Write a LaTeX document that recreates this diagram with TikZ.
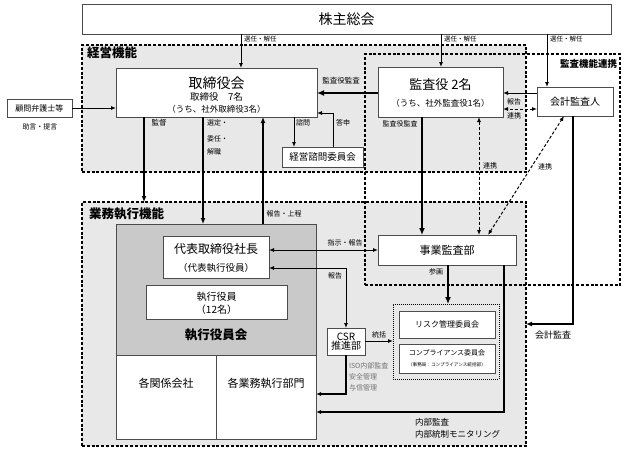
\documentclass[tikz,border=0pt]{standalone}
\usepackage{fontspec}
\setmainfont{Noto Sans CJK JP}
\usetikzlibrary{arrows.meta}
\newcommand\fsz[1]{\fontsize{#1}{#1}\selectfont}
\definecolor{regfill}{gray}{0.91}
\definecolor{execfill}{gray}{0.79}
\definecolor{bord}{gray}{0.3}
\definecolor{isogray}{gray}{0.45}
\begin{document}
\begin{tikzpicture}[x=1pt,y=-1pt,
  box/.style={draw=bord, line width=0.9pt, fill=white, anchor=north west, inner sep=0pt, outer sep=0pt},
  region/.style={draw=black, line width=1.1pt, dash pattern=on 3pt off 1.8pt, anchor=north west, inner sep=0pt, outer sep=0pt},
  txt/.style={inner sep=0pt, outer sep=0pt},
  lbl/.style={inner sep=0pt, outer sep=0pt, font=\fsz{7}},
  arr/.style={line width=1pt, -{Latex[length=5pt,width=4pt]}},
  arrb/.style={line width=1pt, {Latex[length=5pt,width=4pt]}-{Latex[length=5pt,width=4pt]}},
  thk/.style={line width=2pt, -{Latex[length=6pt,width=5pt]}},
  vthk/.style={line width=2.8pt, -{Latex[length=7pt,width=6pt]}},
  dasharr/.style={line width=1pt, dash pattern=on 3pt off 2pt, {Latex[length=5pt,width=4pt]}-{Latex[length=5pt,width=4pt]}}
]
\useasboundingbox (0,0) rectangle (624,448);

% regions
\node[region, fill=regfill, minimum width=444pt, minimum height=127pt] (keiei) at (82,45) {};
\node[region, fill=regfill, minimum width=444pt, minimum height=244pt] (gyomu) at (82,202) {};
\node[region, minimum width=255pt, minimum height=231pt] (kansaR) at (365,54) {};
\node[txt, anchor=west, font=\fsz{12.5}\bfseries] (keieiL) at (87,53) {経営機能};
\node[txt, anchor=west, font=\fsz{12.5}\bfseries] (gyomuL) at (89,214) {業務執行機能};
\node[txt, anchor=east, font=\fsz{9.5}\bfseries] (kansaL) at (617,64) {監査機能連携};

% coordinates
\coordinate (v1) at (241,0);
\coordinate (v2) at (441,0);
\coordinate (v3) at (547,0);
\coordinate (v4) at (144,0);
\coordinate (v5) at (203,0);
\coordinate (v6) at (263,0);
\coordinate (v7) at (294,0);
\coordinate (v8) at (333,0);
\coordinate (v9) at (422,0);
\coordinate (v10) at (479,0);
\coordinate (v11) at (488,0);
\coordinate (v12) at (564,0);
\coordinate (v13) at (573,0);
\coordinate (v14) at (346,0);
\coordinate (v15) at (448,0);
\coordinate (v16) at (504,0);
\coordinate (h1) at (0,113);
\coordinate (h2) at (0,93);
\coordinate (h3) at (0,109);
\coordinate (h4) at (0,324);
\coordinate (h5) at (0,250);
\coordinate (h6) at (0,268);
\coordinate (h7) at (0,341);
\coordinate (h8) at (0,394);
\coordinate (h9) at (0,412);

% boxes
\node[box, minimum width=529pt, minimum height=30pt, font=\fsz{14}] (kabu) at (82,4) {株主総会};
\node[box, minimum width=65pt, minimum height=18pt, font=\fsz{8}] (komon) at (7,99) {顧問弁護士等};
\node[txt, font=\fsz{7}] (jogen) at (40,127) {助言・提言};

\node[box, minimum width=201pt, minimum height=49pt] (tori) at (116,68) {};
\node[txt, font=\fsz{14}] (toriT1) at (216.5,83) {取締役会};
\node[txt, font=\fsz{9.5}] (toriT2) at (216.5,97) {取締役　7名};
\node[txt, font=\fsz{8.5}] (toriT3) at (216.5,109) {（うち、社外取締役3名）};

\node[box, minimum width=125pt, minimum height=50pt] (kansayaku) at (378,67) {};
\node[txt, font=\fsz{13}] (kyT1) at (440.5,85) {監査役 2名};
\node[txt, font=\fsz{8.5}] (kyT2) at (440.5,103) {（うち、社外監査役1名）};

\node[box, minimum width=76pt, minimum height=29pt, font=\fsz{10}] (kaikei) at (537,87) {会計監査人};
\node[box, minimum width=81pt, minimum height=20pt, font=\fsz{9.5}] (shimon) at (282,147) {経営諮問委員会};

\node[box, fill=execfill, minimum width=200pt, minimum height=131pt] (exec) at (116,224) {};
\node[box, minimum width=106pt, minimum height=42pt] (daihyo) at (163,236) {};
\node[txt, font=\fsz{12}] (dhT1) at (216,249) {代表取締役社長};
\node[txt, font=\fsz{9.5}] (dhT2) at (216,268) {（代表執行役員）};
\node[box, minimum width=141pt, minimum height=34pt] (shikko) at (146,285) {};
\node[txt, font=\fsz{10}] (skT1) at (216.5,297) {執行役員};
\node[txt, font=\fsz{10}] (skT2) at (216.5,310) {（12名）};
\node[txt, font=\fsz{12.5}\bfseries] (execL) at (216,335) {執行役員会};
\node[box, minimum width=100pt, minimum height=84pt] (kankei) at (116,355) {};
\node[txt, font=\fsz{11}] (kankeiT) at (166,383) {各関係会社};
\node[box, minimum width=100pt, minimum height=84pt] (bumon) at (216,355) {};
\node[txt, font=\fsz{11}] (bumonT) at (266,383) {各業務執行部門};

\node[box, minimum width=138pt, minimum height=30pt, font=\fsz{11}] (jigyo) at (378,235) {事業監査部};
\node[box, minimum width=38pt, minimum height=27pt, font=\fsz{10}, align=center] (csr) at (327,328) {CSR\\[-1pt]推進部};
\node[box, draw=black, line width=1pt, densely dotted, fill=regfill, minimum width=106pt, minimum height=75pt] (commR) at (393,304) {};
\node[box, minimum width=96pt, minimum height=27pt, font=\fsz{8}] (risk) at (399,311) {リスク管理委員会};
\node[box, minimum width=96pt, minimum height=29pt] (comp) at (399,344) {};
\node[txt, font=\fsz{7}] (compT1) at (447,353) {コンプライアンス委員会};
\node[txt, font=\fsz{4.6}] (compT2) at (447,365) {（事務局：コンプライアンス統括部）};

% connectors
\draw[arr] (kabu.south -| v1) -- (tori.north -| v1);
\draw[arr] (kabu.south -| v2) -- (kansayaku.north -| v2);
\draw[arr] (kabu.south -| v3) -- (kaikei.north -| v3);
\node[lbl, anchor=west, font=\fsz{6.5}] (s1) at (244,39.5) {選任・解任};
\node[lbl, anchor=west, font=\fsz{6.5}] (s2) at (444,39.5) {選任・解任};
\node[lbl, anchor=west, font=\fsz{6.5}] (s3) at (550,39.5) {選任・解任};

\draw[arr] (komon.east) -- (komon.east -| tori.west);

\draw[thk] (tori.south -| v4) -- (gyomu.north -| v4);
\draw[thk] (tori.south -| v5) -- (exec.north -| v5);
\draw[thk] (exec.north -| v6) -- (tori.south -| v6);
\draw[arr] (tori.south -| v7) -- (shimon.north -| v7);
\draw[arr] (shimon.north -| v8) |- (tori.east |- h1);
\node[lbl, font=\fsz{7.5}] (kantoku) at (159,123) {監督};
\node[lbl, anchor=west] (sentei) at (207,123) {選定・};
\node[lbl, anchor=west] (inin) at (207,139) {委任・};
\node[lbl, anchor=west] (kaishoku) at (207,152) {解職};
\node[lbl] (shimonL) at (303,123) {諮問};
\node[lbl] (toshin) at (343,123) {答申};
\node[lbl] (hokokujotei) at (284,214) {報告・上程};

\draw[vthk] (kansayaku.west |- h2) -- (tori.east |- h2);
\node[lbl, font=\fsz{7.5}] (kyk1) at (341,81) {監査役監査};
\draw[arr] (kaikei.west |- h2) -- (kansayaku.east |- h2);
\draw[dasharr] (kaikei.west |- h3) -- (kansayaku.east |- h3);
\node[lbl] (hokoku1) at (514,102) {報告};
\node[lbl] (renkei1) at (514,116) {連携};

\draw[vthk] (kansayaku.south -| v9) -- (jigyo.north -| v9);
\node[lbl] (kyk2) at (400,124) {監査役監査};
\draw[dasharr] (kansayaku.south -| v10) -- (jigyo.north -| v10);
\node[lbl] (renkei2) at (490,166) {連携};
\draw[dasharr] (jigyo.north -| v11) -- (kaikei.south -| v12);
\node[lbl] (renkei3) at (545,167) {連携};

\draw[thk] (kaikei.south -| v13) |- (gyomu.east |- h4);
\node[lbl, font=\fsz{9}] (kaikeikansa) at (553,335) {会計監査};

\draw[arrb] (daihyo.east |- h5) -- (jigyo.west |- h5);
\node[lbl] (shiji) at (345,243) {指示・報告};
\draw[arrb] (daihyo.east |- h6) -| (csr.north -| v14);
\node[lbl] (hokoku2) at (335,276) {報告};

\draw[vthk] (jigyo.south -| v15) -- (commR.north -| v15);
\node[lbl] (sankaku) at (436,272) {参画};
\draw[arr] (csr.east |- h7) -- (commR.west |- h7);
\node[lbl] (tokatsu) at (379,335) {統括};

\draw[arr, line width=1.4pt] (csr.south -| v14) |- (bumon.east |- h8);
\node[lbl, anchor=west, text=isogray] (iso1) at (349,366) {ISO内部監査};
\node[lbl, anchor=west, text=isogray] (iso2) at (349,377) {安全管理};
\node[lbl, anchor=west, text=isogray] (iso3) at (349,388) {与信管理};

\draw[arr, line width=1.8pt] (jigyo.south -| v16) |- (bumon.east |- h9);
\node[lbl, anchor=west, font=\fsz{8.5}] (naibu1) at (415,422) {内部監査};
\node[lbl, anchor=west, font=\fsz{8.5}] (naibu2) at (415,434) {内部統制モニタリング};
\end{tikzpicture}
\end{document}
